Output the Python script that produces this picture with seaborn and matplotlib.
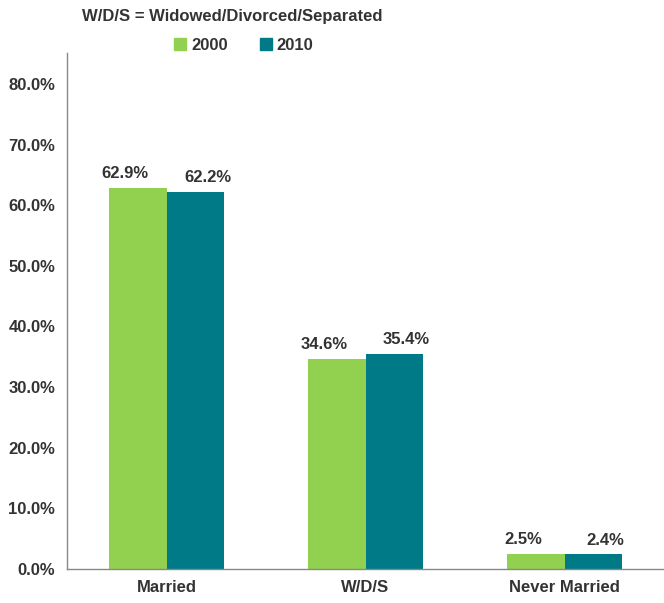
import seaborn as sns
import matplotlib.pyplot as plt
import pandas as pd
from matplotlib.patches import Patch

categories = ['Married', 'W/D/S', 'Never Married']
years = ['2000', '2010']
values_2000 = [62.9, 34.6, 2.5]
values_2010 = [62.2, 35.4, 2.4]
colors = ['#92D050', '#007A87']

df = pd.DataFrame({
    'Status': categories * 2,
    'Year': [years[0]] * 3 + [years[1]] * 3,
    'Share': values_2000 + values_2010,
})

sns.set_style('white')
plt.rcParams['font.family'] = ['Liberation Sans', 'DejaVu Sans']

txt = '#333333'
fig = plt.figure(figsize=(6.64, 6.03), dpi=100)
ax = fig.add_axes([67 / 664, 1 - 569 / 603, 597 / 664, (569 - 53) / 603])

sns.barplot(data=df, x='Status', y='Share', hue='Year',
            palette=colors, width=0.575, gap=0, linewidth=0,
            saturation=1, ax=ax, legend=False)

# labels sit a little outward from the bar centres, like the original
for c, dx in zip(ax.containers, [-9, 9]):
    for p, v in zip(c.patches, c.datavalues):
        ax.annotate(f'{v:.1f}%', (p.get_x() + p.get_width() / 2, p.get_height()),
                    xytext=(dx, 5), textcoords='offset points', ha='center', va='bottom',
                    fontsize=12, fontweight='bold', color=txt)

ax.set_xlim(-0.5, 2.5)
ax.set_ylim(0, 85.1)
ax.set_yticks(range(0, 81, 10))
ax.set_yticklabels([f'{t:.1f}%' for t in range(0, 81, 10)])
ax.set_xlabel('')
ax.set_ylabel('')
ax.tick_params(axis='y', length=5, color='#888888', labelsize=12, labelcolor=txt)
ax.tick_params(axis='x', length=0, labelsize=12, labelcolor=txt, pad=8)
for lab in ax.get_xticklabels() + ax.get_yticklabels():
    lab.set_fontweight('bold')
for s in ['top', 'right']:
    ax.spines[s].set_visible(False)
for s in ['left', 'bottom']:
    ax.spines[s].set_color('#888888')
    ax.spines[s].set_linewidth(1)

fig.text(232 / 664, 1 - 16 / 603, 'W/D/S = Widowed/Divorced/Separated', ha='center', va='center',
         fontsize=12, fontweight='bold', color=txt)

handles = [Patch(color=colors[0], label=years[0]), Patch(color=colors[1], label=years[1])]
fig.legend(handles=handles, loc='center', bbox_to_anchor=(244 / 664, 1 - 45 / 603), ncol=2,
           frameon=False, handlelength=0.7, handleheight=0.7, columnspacing=1.95,
           handletextpad=0.3, prop={'size': 12, 'weight': 'bold'}, labelcolor=txt)

fig.savefig('out.png', dpi=100)
